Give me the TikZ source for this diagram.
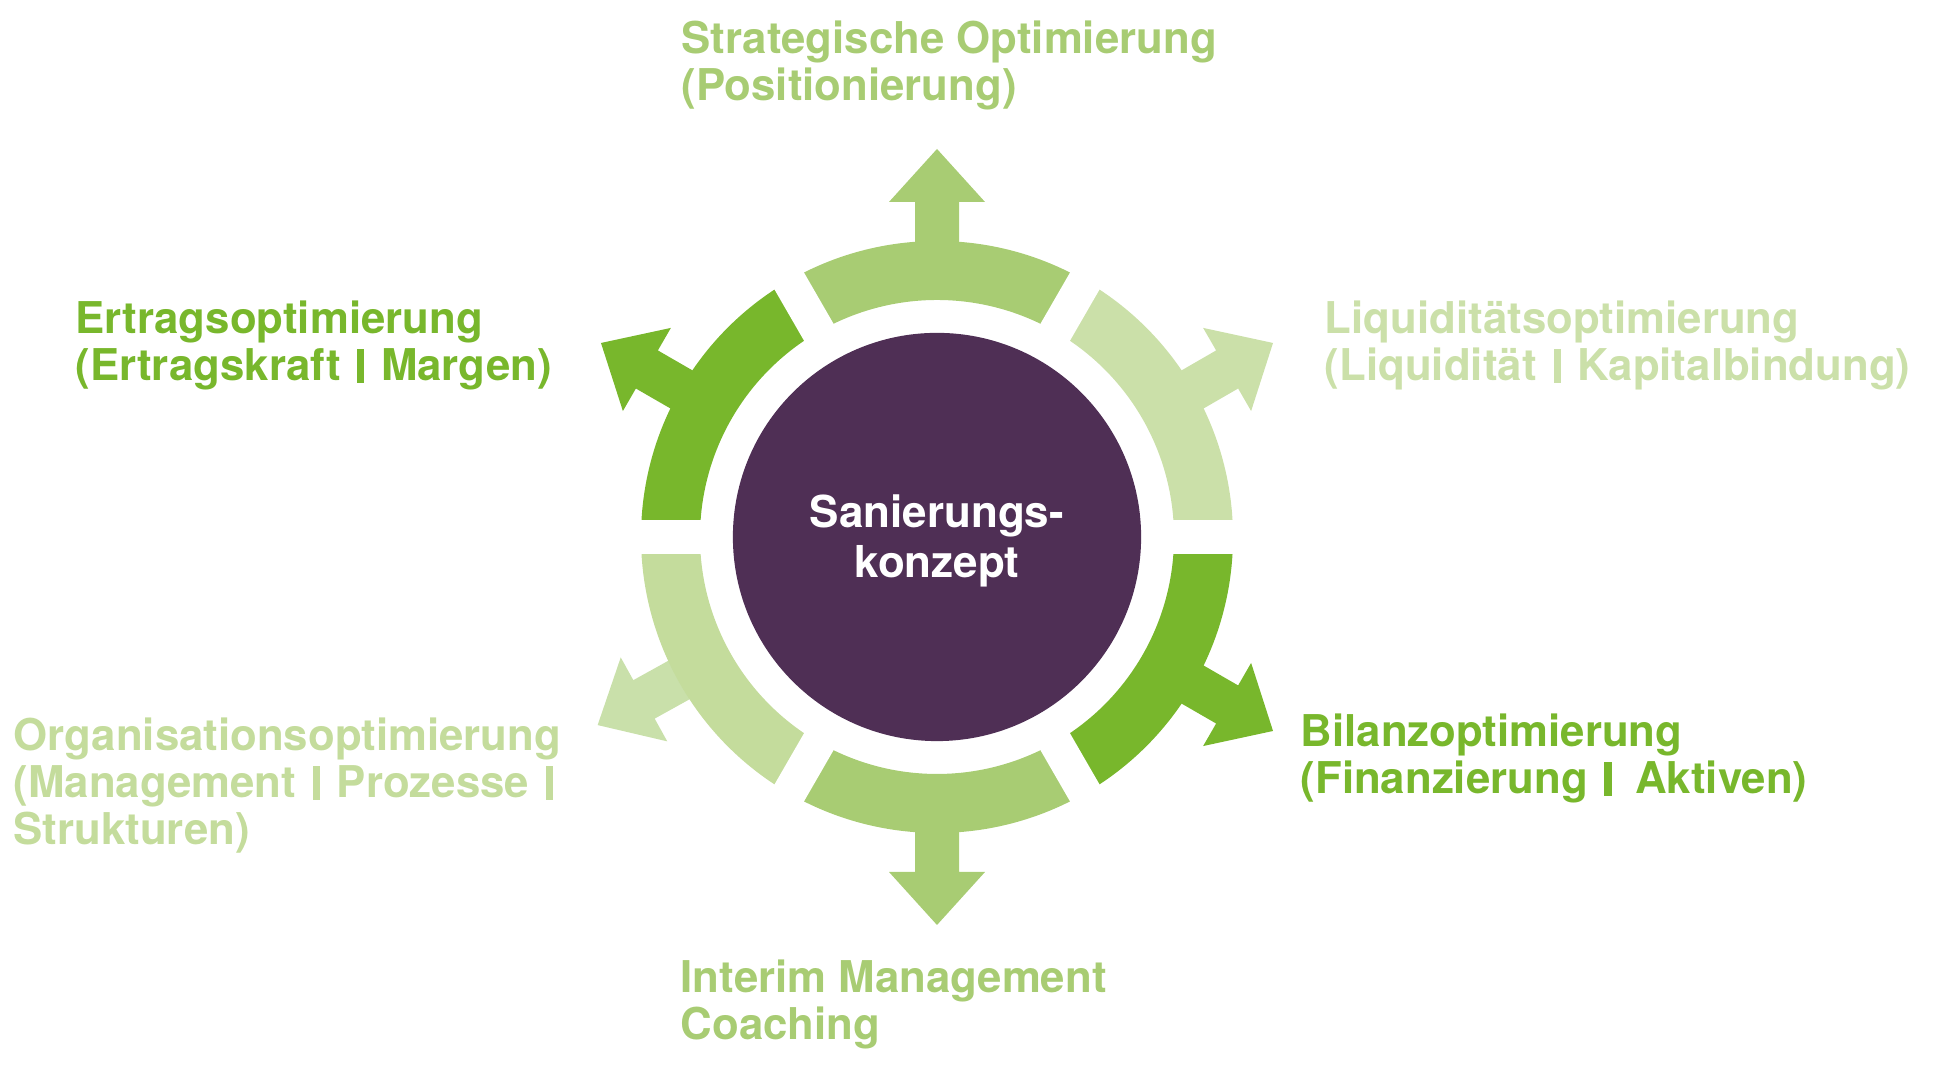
\documentclass[tikz,border=0pt]{standalone}
\usepackage{fontspec}
\setmainfont{TeX Gyre Heros}
\definecolor{cdark}{HTML}{78B72C}
\definecolor{cmid}{HTML}{A8CC73}
\definecolor{clight}{HTML}{CBE0A9}
\definecolor{corg}{HTML}{C4DC9C}
\definecolor{corgarrow}{HTML}{C9E0AA}
\definecolor{cpurple}{HTML}{4F2F55}
\newcommand{\firstln}{\rule{0pt}{10pt}}
\newcommand{\vbar}{\hspace{1.3pt}\rule[-0.6pt]{2pt}{9.6pt}\hspace{1.3pt}}
\begin{document}
\begin{tikzpicture}[x=0.01cm,y=0.01cm,
  lbl/.style={anchor=north west, inner sep=0pt, align=left,
    font=\fontsize{12.45}{13.35}\selectfont\bfseries},
  hub/.style={circle, fill=cpurple, minimum size=4.08cm, inner sep=0pt},
  hubtext/.style={inner sep=0pt, text=white, align=center,
    font=\fontsize{12.5}{14.2}\selectfont\bfseries}]
\useasboundingbox (0,0) rectangle (1942,1071);
\coordinate (C) at (937,534);
\begin{scope}[shift={(C)}]
  \foreach \a/\c in {30/clight,90/cmid,150/cdark,209/corgarrow,270/cmid,330/cdark}{
    \fill[\c,rotate=\a] (280,-22) -- (335,-22) -- (335,-48) -- (388,0) -- (335,48) -- (335,22) -- (280,22) -- cycle;
  }
  \foreach \a/\c in {0/clight,60/cmid,120/cdark,180/corg,240/cmid,300/cdark}{
    \fill[\c] (\a:296) arc[start angle=\a, end angle=\a+60, radius=296] -- (\a+60:237) arc[start angle=\a+60, end angle=\a, radius=237] -- cycle;
  }
  \foreach \a in {0,60,120}{
    \draw[white, line width=0.34cm] (\a:305) -- (\a+180:305);
  }
\end{scope}
\node[hub] (hub) at (C) {};
\node[hubtext] (hubtxt) at ([yshift=-0.04cm]C) {Sanierungs-\\konzept};
\node[lbl, text=cmid] (strat) at (681,1053) {\firstln Strategische Optimierung\\(Positionierung)};
\node[lbl, text=cdark] (ertrag) at (75,773) {\firstln Ertragsoptimierung\\(Ertragskraft \vbar\ Margen)};
\node[lbl, text=clight] (liqui) at (1324,773) {\firstln Liquiditätsoptimierung\\(Liquidität \vbar\ Kapitalbindung)};
\node[lbl, text=cdark] (bilanz) at (1300,360) {\firstln Bilanzoptimierung\\(Finanzierung \vbar\hspace{2pt} Aktiven)};
\node[lbl, text=corg] (orga) at (13,356) {\firstln Organisationsoptimierung\\(Management \vbar\ Prozesse \vbar\\Strukturen)};
\node[lbl, text=cmid] (interim) at (680,114) {\firstln Interim Management\\Coaching};
\end{tikzpicture}
\end{document}
